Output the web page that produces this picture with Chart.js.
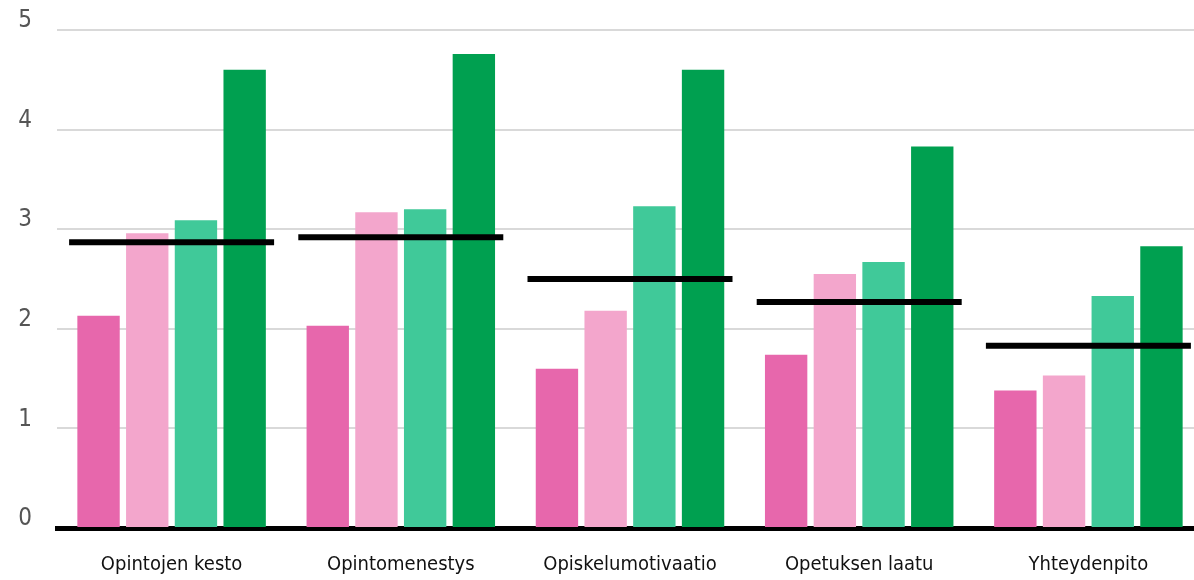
<!DOCTYPE html>
<html>
<head>
<meta charset="utf-8">
<style>
  html, body { margin: 0; padding: 0; background: #fff; overflow: hidden; width: 1194px; height: 580px; }
  #wrap { width: 1212px; height: 580px; }
</style>
<script src="https://cdn.jsdelivr.net/npm/chart.js@4"></script>
</head>
<body>
<div id="wrap"><canvas id="c" width="1212" height="580"></canvas></div>
<script>
const categories = ["Opintojen kesto", "Opintomenestys", "Opiskelumotivaatio", "Opetuksen laatu", "Yhteydenpito"];
const series1 = [2.13, 2.03, 1.60, 1.74, 1.38];
const series2 = [2.96, 3.17, 2.18, 2.55, 1.53];
const series3 = [3.09, 3.20, 3.23, 2.67, 2.33];
const series4 = [4.60, 4.76, 4.60, 3.83, 2.83];
const averages = [2.87, 2.92, 2.50, 2.27, 1.83];
const yTicks = [0, 1, 2, 3, 4, 5];

const colors = ["#E767AC", "#F3A6CC", "#40C999", "#00A050"];
const fontFamily = "'DejaVu Sans Condensed', 'Liberation Sans Narrow', sans-serif";

function barSet(label, data, color) {
  return {
    type: 'bar', label, data,
    backgroundColor: color,
    borderWidth: 0,
    barPercentage: 0.87,
    categoryPercentage: 0.85,
    order: 2
  };
}

new Chart(document.getElementById('c'), {
  type: 'bar',
  data: {
    labels: categories,
    datasets: [
      {
        type: 'line', label: 'Keskiarvo', data: averages,
        showLine: false,
        clip: false,
        pointStyle: 'line',
        pointRadius: 102.5,
        pointHoverRadius: 102.5,
        pointBorderWidth: 6,
        pointBorderColor: '#000',
        pointBackgroundColor: '#000',
        borderColor: '#000',
        order: 0
      },
      barSet('1', series1, colors[0]),
      barSet('2', series2, colors[1]),
      barSet('3', series3, colors[2]),
      barSet('4', series4, colors[3])
    ]
  },
  options: {
    responsive: false,
    animation: false,
    events: [],
    layout: { autoPadding: false, padding: { top: 30, right: 9, bottom: 0, left: 0 } },
    plugins: { legend: { display: false }, tooltip: { enabled: false } },
    scales: {
      x: {
        z: 1,
        grid: { display: false, drawTicks: false },
        border: { display: true, color: '#000', width: 5 },
        ticks: { color: '#111', padding: 25, maxRotation: 0, minRotation: 0, autoSkip: false, font: { family: fontFamily, size: 20 } },
        afterFit: s => { s.height = 52; s.paddingLeft = 0; s.paddingRight = 0; }
      },
      y: {
        min: 0, max: 5,
        afterBuildTicks: s => { s.ticks = yTicks.map(v => ({ value: v })); },
        grid: { color: '#d9d9d9', lineWidth: 2, drawTicks: false },
        border: { display: false },
        ticks: { color: '#555', padding: 25, labelOffset: -9, font: { family: fontFamily, size: 24 } },
        afterFit: s => { s.width = 57; s.paddingTop = 0; s.paddingBottom = 0; }
      }
    }
  }
});
</script>
</body>
</html>
